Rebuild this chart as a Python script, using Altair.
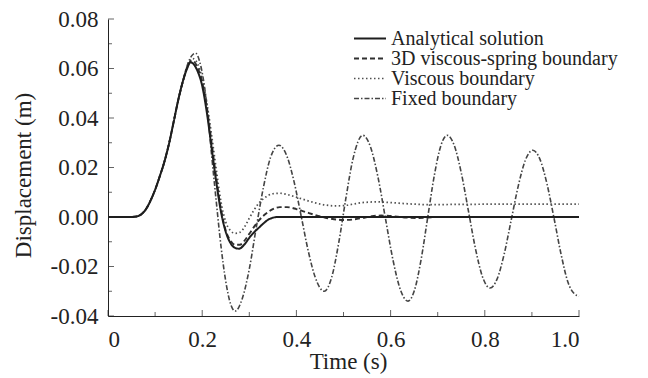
import altair as alt
import pandas as pd

FONT = "Liberation Serif, Times New Roman, Times, serif"

series_names = ["Analytical solution", "3D viscous-spring boundary",
                "Viscous boundary", "Fixed boundary"]

# shared rising branch (all four curves coincide here)
t_rise = [0, 0.05, 0.06, 0.07, 0.08, 0.09, 0.10, 0.11, 0.12, 0.13, 0.14, 0.15, 0.16]
v_rise = [0, 0, 0.0002, 0.001, 0.003, 0.0065, 0.011, 0.0165, 0.0225, 0.030, 0.039, 0.048, 0.0555]

t_analytical = [0.168, 0.175, 0.19, 0.20, 0.21, 0.22, 0.23, 0.24, 0.25, 0.26, 0.27, 0.278,
                0.29, 0.30, 0.31, 0.32, 0.33, 0.34, 0.35, 0.36, 1.0]
v_analytical = [0.060, 0.0625, 0.059, 0.053, 0.042, 0.028, 0.014, 0.002, -0.006, -0.0105, -0.0125,
                -0.0128, -0.0110, -0.0084, -0.0062, -0.0044, -0.0026, -0.0011, -0.0003, 0, 0]

t_3d = [0.168, 0.178, 0.19, 0.20, 0.21, 0.22, 0.23, 0.24, 0.25, 0.26, 0.27, 0.28, 0.29, 0.30,
        0.31, 0.32, 0.33, 0.34, 0.35, 0.365, 0.38, 0.40, 0.42, 0.44, 0.46, 0.48, 0.50, 0.52,
        0.54, 0.56, 0.58, 0.60, 0.63, 0.66, 0.70, 1.0]
v_3d = [0.0605, 0.0632, 0.0605, 0.0545, 0.044, 0.030, 0.0155, 0.003, -0.0055, -0.0095, -0.0112,
        -0.0112, -0.0095, -0.0068, -0.0040, -0.0015, 0.0005, 0.0020, 0.0032, 0.0040, 0.0040,
        0.0032, 0.0020, 0.0008, -0.0002, -0.0009, -0.0012, -0.0010, -0.0004, 0.0003, 0.0006,
        0.0004, -0.0002, -0.0004, 0, 0]

t_viscous = [0.168, 0.18, 0.19, 0.20, 0.21, 0.22, 0.23, 0.24, 0.25, 0.26, 0.27, 0.28, 0.29,
             0.30, 0.31, 0.32, 0.33, 0.34, 0.35, 0.365, 0.38, 0.40, 0.42, 0.44, 0.46, 0.48,
             0.50, 0.52, 0.54, 0.57, 0.60, 0.64, 0.68, 0.75, 0.85, 1.0]
v_viscous = [0.061, 0.064, 0.062, 0.056, 0.046, 0.033, 0.019, 0.006, -0.002, -0.0055, -0.0066,
             -0.0062, -0.0040, -0.0005, 0.0028, 0.0055, 0.0074, 0.0087, 0.0094, 0.0096, 0.0091,
             0.0080, 0.0068, 0.0057, 0.0049, 0.0045, 0.0046, 0.0052, 0.0058, 0.0061, 0.0058,
             0.0053, 0.0050, 0.0051, 0.0052, 0.0052]

t_fixed = [0.17, 0.178, 0.186, 0.195, 0.205, 0.21, 0.22, 0.23, 0.24, 0.25, 0.26, 0.27, 0.285,
           0.30, 0.315, 0.33, 0.345, 0.363, 0.38, 0.395, 0.41, 0.425, 0.44, 0.459, 0.475, 0.49,
           0.505, 0.52, 0.541, 0.557, 0.573, 0.589, 0.605, 0.621, 0.637, 0.651, 0.665, 0.679,
           0.693, 0.707, 0.72, 0.735, 0.75, 0.765, 0.78, 0.795, 0.811, 0.826, 0.841, 0.856,
           0.871, 0.886, 0.902, 0.917, 0.932, 0.947, 0.962, 0.977, 0.99, 1.0]
v_fixed = [0.0622, 0.0652, 0.0662, 0.0625, 0.0525, 0.045, 0.025, 0.006, -0.012, -0.026, -0.035,
           -0.038, -0.033, -0.021, -0.004, 0.012, 0.024, 0.029, 0.0245, 0.0143, 0.0005, -0.0136,
           -0.0244, -0.030, -0.0243, -0.0103, 0.0075, 0.0234, 0.033, 0.0285, 0.0163, -0.0005,
           -0.0173, -0.0295, -0.034, -0.0294, -0.0169, 0.0001, 0.0170, 0.0290, 0.033, 0.0290,
           0.0179, 0.0027, -0.0126, -0.0241, -0.0287, -0.0251, -0.0151, -0.0013, 0.0125, 0.0229,
           0.027, 0.0234, 0.0134, -0.0005, -0.0151, -0.0266, -0.031, -0.032]

x_major = [0, 0.2, 0.4, 0.6, 0.8, 1.0]
x_minor = [0.1, 0.3, 0.5, 0.7, 0.9]
y_major = [-0.04, -0.02, 0.0, 0.02, 0.04, 0.06, 0.08]
y_minor = [-0.03, -0.01, 0.01, 0.03, 0.05, 0.07]

rows = []
for name, ts, vs in [(series_names[3], t_fixed, v_fixed),
                     (series_names[2], t_viscous, v_viscous),
                     (series_names[1], t_3d, v_3d),
                     (series_names[0], t_analytical, v_analytical)]:
    assert len(ts) == len(vs)
    for t, v in zip(t_rise + ts, v_rise + vs):
        rows.append({"series": name, "t": t, "v": v})
df = pd.DataFrame(rows)

xs = alt.Scale(domain=[0, 1.0], nice=False, zero=False)
ys = alt.Scale(domain=[-0.04, 0.08], nice=False, zero=False)

x_axis = alt.Axis(
    title="Time (s)", values=x_major, ticks=False, grid=False,
    labelExpr="datum.value == 0 ? '0' : format(datum.value, '.1f')",
    labelPadding=12, titleX=240, titleY=52, titleBaseline="alphabetic",
    titleAlign="center")
y_axis = alt.Axis(
    title="Displacement (m)", values=y_major, ticks=False, grid=False,
    labelExpr="replace(format(datum.value, '.2f'), '\u2212', '-')",
    labelPadding=10, titleX=-78, titleY=156, titleBaseline="alphabetic",
    titleAlign="center")

lines = alt.Chart(df).mark_line(interpolate="monotone").encode(
    x=alt.X("t:Q", scale=xs, axis=x_axis),
    y=alt.Y("v:Q", scale=ys, axis=y_axis),
    color=alt.Color("series:N", scale=alt.Scale(
        domain=series_names, range=["#1e1e1e", "#303030", "#505050", "#444444"]),
        legend=alt.Legend(title=None, orient="none", legendX=252, legendY=9.5,
                          symbolType="M-4,0H4", symbolSize=64, labelFont=FONT,
                          labelFontSize=20, labelColor="#222", rowPadding=0,
                          labelOffset=11, padding=0, symbolStrokeWidth=1.5,
                          labelLimit=400)),
    strokeDash=alt.StrokeDash("series:N", scale=alt.Scale(
        domain=series_names, range=[[1, 0], [5, 3], [1.5, 2.5], [5, 2, 1.5, 2]])),
    strokeWidth=alt.StrokeWidth("series:N", scale=alt.Scale(
        domain=series_names, range=[2.0, 1.6, 1.6, 1.6])),
    detail="series:N",
    order=alt.Order("t:Q"),
)

def ticks(vals, axis, size):
    d = pd.DataFrame({"p": vals})
    if axis == "x":
        return alt.Chart(d).mark_tick(orient="vertical", size=size, yOffset=-size / 2,
                                      thickness=1, color="#222").encode(
            x=alt.X("p:Q", scale=xs, axis=x_axis),
            y=alt.Y(datum=-0.04, type="quantitative", scale=ys, axis=y_axis))
    return alt.Chart(d).mark_tick(orient="horizontal", size=size, xOffset=size / 2,
                                  thickness=1, color="#222").encode(
        x=alt.X(datum=0, type="quantitative", scale=xs, axis=x_axis),
        y=alt.Y("p:Q", scale=ys, axis=y_axis))

chart = alt.layer(
    lines,
    ticks(x_major, "x", 6), ticks(x_minor, "x", 4),
    ticks(y_major, "y", 6), ticks(y_minor, "y", 4),
).properties(
    width=471, height=297,
    autosize=alt.AutoSizeParams(type="none"),
    padding={"left": 100, "top": 11, "right": 61, "bottom": 58},
).configure_view(stroke=None).configure_axis(
    labelFont=FONT, labelFontSize=23, labelColor="#222",
    titleFont=FONT, titleFontSize=23, titleColor="#222", titleFontWeight="normal",
    domainColor="#222", domainWidth=1,
).configure_axisX(labelAngle=0)

chart.save("out.html", embed_options={"renderer": "svg", "actions": False})
